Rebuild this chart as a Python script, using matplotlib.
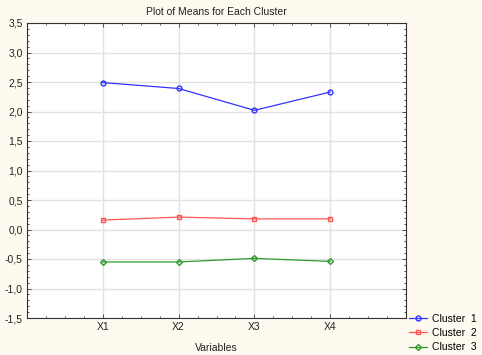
import matplotlib
matplotlib.use('Agg')
import matplotlib.pyplot as plt
from matplotlib.ticker import FuncFormatter, MultipleLocator

# Datos
variables = ['X1', 'X2', 'X3', 'X4']
cluster1 = [2.49, 2.39, 2.02, 2.33]
cluster2 = [0.16, 0.21, 0.18, 0.18]
cluster3 = [-0.55, -0.55, -0.49, -0.54]

plt.rcParams['font.family'] = ['Liberation Sans', 'DejaVu Sans']
plt.rcParams['font.size'] = 7.5

fondo = '#fffaf0'
fig = plt.figure(figsize=(4.82, 3.55), dpi=100, facecolor=fondo)
ax = fig.add_axes([27 / 482, 1 - 318 / 355, 379 / 482, 295 / 355])
ax.set_facecolor('white')

xs = list(range(1, len(variables) + 1))
ax.plot(xs, cluster1, color='#3333ff', lw=0.9, marker='o', ms=3.5,
        mfc='none', mew=1.0, label='Cluster  1')
ax.plot(xs, cluster2, color='#ff5555', lw=0.9, marker='s', ms=3.5,
        mfc='none', mew=1.0, label='Cluster  2')
ax.plot(xs, cluster3, color='#2e9a2e', lw=0.9, marker='D', ms=3,
        mfc='none', mew=1.0, label='Cluster  3')

ax.set_xlim(0, 5)
ax.set_ylim(-1.5, 3.5)
ax.set_xticks(xs)
ax.set_xticklabels(variables)
ax.yaxis.set_major_locator(MultipleLocator(0.5))
ax.yaxis.set_minor_locator(MultipleLocator(0.1))
ax.xaxis.set_minor_locator(MultipleLocator(0.25))
ax.yaxis.set_major_formatter(FuncFormatter(lambda v, p: f'{v:.1f}'.replace('.', ',')))

ax.grid(True, which='major', color='#e2e2e2', lw=1.0)
ax.tick_params(which='both', direction='in', top=True, right=True, length=3, width=0.6,
               labelsize=7.5, pad=3, colors='#333333', labelcolor='#222222')
ax.tick_params(which='minor', length=1.5)
for s in ax.spines.values():
    s.set_linewidth(0.8)
    s.set_color('#333333')

ax.set_title('Plot of Means for Each Cluster', fontsize=7.5, pad=6, color='#222222')
ax.set_xlabel('Variables', fontsize=7.5, labelpad=8, color='#222222')

ax.legend(loc='upper left', bbox_to_anchor=(1.005, 0.02), frameon=False,
          fontsize=7.5, handlelength=1.7, handletextpad=0.5, labelspacing=0.42,
          borderaxespad=0.0, borderpad=0.15)

fig.savefig('out.png', dpi=100, facecolor=fondo)
